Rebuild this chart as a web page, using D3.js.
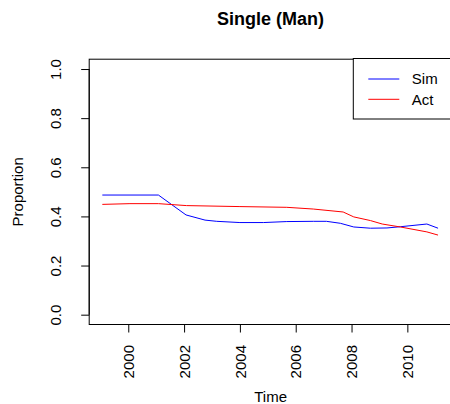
<!DOCTYPE html>
<html>
<head>
<meta charset="utf-8">
<script src="https://cdn.jsdelivr.net/npm/d3@7"></script>
<style>
  body { margin: 0; background: #fff; }
  text { font-family: "Liberation Sans", Arial, sans-serif; fill: #000; }
</style>
</head>
<body>
<div id="chart"></div>
<script>
// values
var simYears = [1999.07, 2001.08, 2002.07, 2002.75, 2003.17, 2004.0, 2004.84, 2005.68, 2006.63, 2007.1, 2007.6, 2008.08, 2008.68, 2009.27, 2009.75, 2010.7, 2011.1];
var simVals  = [0.487, 0.487, 0.406, 0.385, 0.380, 0.375, 0.375, 0.379, 0.380, 0.380, 0.372, 0.357, 0.352, 0.353, 0.358, 0.369, 0.352];
var actYears = [1999.07, 2000.06, 2001.08, 2002.09, 2004.0, 2005.68, 2006.63, 2007.7, 2008.08, 2008.68, 2009.1, 2009.75, 2010.7, 2011.1];
var actVals  = [0.449, 0.452, 0.452, 0.444, 0.440, 0.437, 0.430, 0.418, 0.398, 0.383, 0.369, 0.357, 0.337, 0.324];
var xTicks = [2000, 2002, 2004, 2006, 2008, 2010];
var yTicks = [0.0, 0.2, 0.4, 0.6, 0.8, 1.0];
var seriesNames = ["Sim", "Act"];
var seriesColors = ["#0000ff", "#ff0000"];

var width = 450, height = 404;
var margin = {top: 59.2, right: -2, bottom: 79.5, left: 89.2};
var fontSize = 15;

var svg = d3.select("#chart").append("svg")
    .attr("width", width)
    .attr("height", height);

var x = d3.scaleLinear()
    .domain([1998.6, 2011.6])
    .range([margin.left, width - margin.right]);

var y = d3.scaleLinear()
    .domain([-0.04, 1.04])
    .range([height - margin.bottom, margin.top]);

var line = d3.line()
    .x(function(d) { return x(d[0]); })
    .y(function(d) { return y(d[1]); });

var simData = d3.zip(simYears, simVals),
    actData = d3.zip(actYears, actVals);

svg.append("path")
    .datum(simData)
    .attr("fill", "none")
    .attr("stroke", seriesColors[0])
    .attr("stroke-width", 1)
    .attr("d", line);

svg.append("path")
    .datum(actData)
    .attr("fill", "none")
    .attr("stroke", seriesColors[1])
    .attr("stroke-width", 1)
    .attr("d", line);

// plot box
svg.append("rect")
    .attr("x", margin.left)
    .attr("y", margin.top)
    .attr("width", width - margin.right - margin.left)
    .attr("height", height - margin.bottom - margin.top)
    .attr("fill", "none")
    .attr("stroke", "#000")
    .attr("stroke-width", 1);

// y axis
var yAxis = svg.append("g")
    .attr("transform", "translate(" + margin.left + ",0)")
    .call(d3.axisLeft(y).tickValues(yTicks).tickSize(8).tickSizeOuter(0)
        .tickFormat(d3.format(".1f")));
yAxis.select(".domain").attr("d", "M0," + y(0) + "V" + y(1)).attr("stroke", "#000");
yAxis.selectAll(".tick line").attr("stroke", "#000");
yAxis.selectAll(".tick text")
    .attr("font-size", fontSize)
    .attr("x", null).attr("dy", null)
    .attr("text-anchor", "middle")
    .attr("transform", "translate(-28,0) rotate(-90)")
    .attr("y", 0)
    .attr("dy", 0);

// x axis
var xAxis = svg.append("g")
    .attr("transform", "translate(0," + (height - margin.bottom) + ")")
    .call(d3.axisBottom(x).tickValues(xTicks).tickSize(8).tickSizeOuter(0)
        .tickFormat(d3.format("d")));
xAxis.select(".domain").attr("stroke", "none");
xAxis.selectAll(".tick line").attr("stroke", "#000");
xAxis.selectAll(".tick text")
    .attr("font-size", fontSize)
    .attr("text-anchor", "end")
    .attr("transform", "translate(0,20.5) rotate(-90)")
    .attr("x", 0).attr("y", 0)
    .attr("dy", "0.35em");

// titles
svg.append("text")
    .attr("x", (margin.left + width - margin.right) / 2)
    .attr("y", 24.5)
    .attr("text-anchor", "middle")
    .attr("font-size", 18)
    .attr("font-weight", "bold")
    .text("Single (Man)");

svg.append("text")
    .attr("x", (margin.left + width - margin.right) / 2)
    .attr("y", 401.5)
    .attr("text-anchor", "middle")
    .attr("font-size", fontSize)
    .text("Time");

svg.append("text")
    .attr("transform", "translate(22.5," + ((margin.top + height - margin.bottom) / 2) + ") rotate(-90)")
    .attr("text-anchor", "middle")
    .attr("font-size", fontSize)
    .text("Proportion");

// legend
var legend = svg.append("g")
    .attr("transform", "translate(353.3,58.5)");
legend.append("rect")
    .attr("width", 110).attr("height", 60.5)
    .attr("fill", "#fff")
    .attr("stroke", "#000");
seriesNames.forEach(function(name, i) {
    legend.append("line")
        .attr("x1", 15).attr("x2", 46)
        .attr("y1", 20.5 + i * 20.3).attr("y2", 20.5 + i * 20.3)
        .attr("stroke", seriesColors[i]);
    legend.append("text")
        .attr("x", 58.5).attr("y", 20.5 + i * 20.3)
        .attr("dy", "0.35em")
        .attr("font-size", fontSize)
        .text(name);
});
</script>
</body>
</html>
